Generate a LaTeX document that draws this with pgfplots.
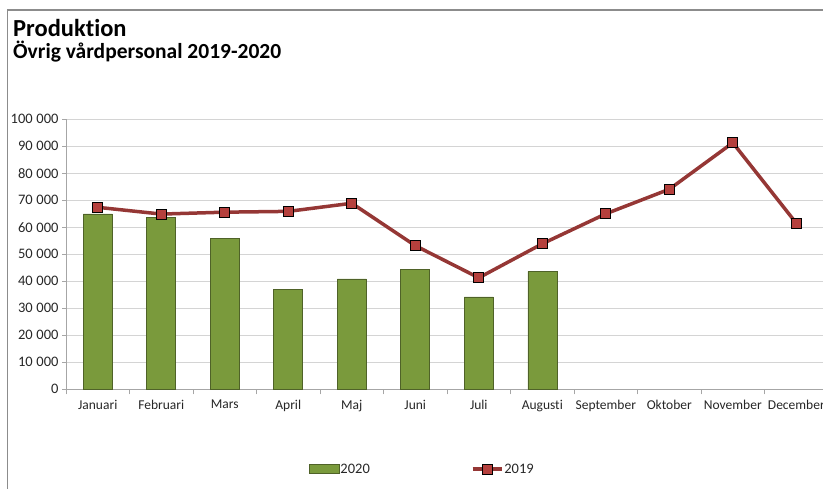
\documentclass[border=0pt]{standalone}
\usepackage{fontspec}
\setmainfont{Carlito}[Ligatures=NoCommon]
\usepackage{pgfplots}
\pgfplotsset{compat=1.18}
\definecolor{barfill}{HTML}{7A9A3C}
\definecolor{bardraw}{HTML}{4F6228}
\definecolor{linered}{HTML}{953735}
\definecolor{markred}{HTML}{B5403D}
\definecolor{gridgray}{HTML}{D4D4D4}
\definecolor{axisgray}{HTML}{A6A6A6}
\definecolor{framegray}{HTML}{8C8C8C}
\definecolor{txt}{HTML}{262626}
\pgfplotsset{
  barlegend/.style={legend image code/.code={\draw[draw=bardraw, line width=0.6pt, fill=barfill] (0pt,-4.5pt) rectangle (30pt,4.5pt);}},
  linelegend/.style={legend image code/.code={\draw[##1, mark repeat=2, mark phase=2] plot coordinates {(0pt,0pt) (14.5pt,0pt) (29pt,0pt)};}},
}
\begin{document}
\begin{tikzpicture}
\useasboundingbox (0pt,0pt) rectangle (823pt,488pt);
\draw[color=framegray, line width=1.2pt] (7.5pt,-2pt) -- (7.5pt,478pt) -- (825pt,478pt);
\node[anchor=base west, inner sep=0pt, font=\bfseries\fontsize{24.5}{28}\selectfont] at (13pt,451.3pt) {Produktion};
\node[anchor=base west, inner sep=0pt, font=\bfseries\fontsize{21.5}{25}\selectfont] at (13pt,429.5pt) {Övrig vårdpersonal 2019-2020};
\begin{axis}[
  at={(66pt,98.7pt)}, anchor=south west,
  scale only axis, width=757pt, height=270pt,
  xmin=-0.5, xmax=11.42, ymin=0, ymax=100000,
  axis x line*=bottom, axis y line*=left,
  axis line style={color=axisgray, line width=1pt},
  ytick={0,10000,...,100000},
  scaled y ticks=false,
  /pgf/number format/.cd, fixed, 1000 sep={\hspace{0.25em}}, assume math mode=true,
  /pgfplots/.cd,
  ymajorgrids, grid style={color=gridgray, line width=1.3pt},
  tick align=outside, major tick length=4pt, minor tick length=5pt,
  tick style={color=axisgray, line width=1pt},
  xtick={0,...,11},
  xticklabels={Januari,Februari,Mars,April,Maj,Juni,Juli,Augusti,September,Oktober,November,December},
  major x tick style={draw=none},
  minor xtick={-0.5,0.5,...,10.5},
  ticklabel style={font=\fontsize{13.5}{16}\selectfont, color=txt},
  yticklabel style={font=\fontsize{14.5}{16}\selectfont},
  xticklabel style={yshift=-3.5pt},
  legend style={at={(0.47,-0.296)}, anchor=center, draw=none, fill=none,
    legend columns=2, font=\fontsize{14.5}{17}\selectfont, text=txt,
    nodes={inner xsep=1pt},
    /tikz/every even column/.append style={column sep=100pt}},
]
\addplot[ybar, bar width=29pt, draw=bardraw, line width=0.6pt, fill=barfill, barlegend]
  coordinates {(0,65000) (1,63700) (2,55900) (3,37000) (4,40900) (5,44300) (6,34200) (7,43700)};
\addlegendentry{2020}
\addplot[color=linered, line width=3.5pt, mark=square*, mark size=5pt,
  mark options={fill=markred, draw=black, line width=1.1pt}, linelegend]
  coordinates {(0,67400) (1,64900) (2,65600) (3,65900) (4,68900) (5,53200) (6,41300) (7,53900) (8,65000) (9,74100) (10,91300) (11,61500)};
\addlegendentry{2019}
\end{axis}
\end{tikzpicture}
\end{document}
